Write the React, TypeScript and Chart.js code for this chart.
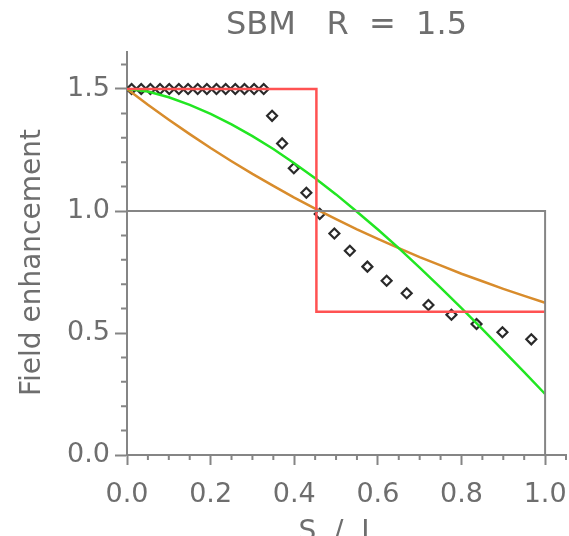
import React, { useEffect, useRef } from 'react';
import { Chart, registerables } from 'chart.js';

Chart.register(...registerables);

const FONT = 'DejaVu Sans';
const AXIS_COLOR = '#858585';
const TEXT_COLOR = '#6e6e6e';

const xMajorTicks = [0, 0.2, 0.4, 0.6, 0.8, 1.0];
const xMinorTicks = [0.05, 0.1, 0.15, 0.25, 0.3, 0.35, 0.45, 0.5, 0.55, 0.65, 0.7, 0.75, 0.85, 0.9, 0.95, 1.05];
const yMajorTicks = [0, 0.5, 1.0, 1.5];
const yMinorTicks = [0.1, 0.2, 0.3, 0.4, 0.6, 0.7, 0.8, 0.9, 1.1, 1.2, 1.3, 1.4, 1.6];

const curveS = [0, 0.05, 0.1, 0.15, 0.2, 0.25, 0.3, 0.35, 0.4, 0.45, 0.5, 0.55, 0.6, 0.65, 0.7, 0.75, 0.8, 0.85, 0.9, 0.95, 1.0];
const greenValues = [1.5, 1.49, 1.466, 1.435, 1.398, 1.355, 1.307, 1.254, 1.196, 1.134, 1.068, 0.997, 0.924, 0.848, 0.768, 0.686, 0.602, 0.516, 0.428, 0.34, 0.25];
const orangeValues = [1.5, 1.435, 1.374, 1.315, 1.258, 1.204, 1.152, 1.103, 1.055, 1.01, 0.967, 0.925, 0.886, 0.848, 0.811, 0.777, 0.743, 0.712, 0.681, 0.652, 0.624];

const stepS = [0, 0.453, 0.453, 1.0];
const stepValues = [1.5, 1.5, 0.587, 0.587];

const boxS = [0, 1, 1];
const boxValues = [1, 1, 0];

const diamondS = [0.011, 0.034, 0.056, 0.079, 0.101, 0.124, 0.146, 0.169, 0.191, 0.214, 0.236, 0.259, 0.281, 0.304, 0.327,
  0.347, 0.371, 0.399, 0.429, 0.461, 0.496, 0.533, 0.575, 0.621, 0.669, 0.721, 0.776, 0.836, 0.898, 0.967];
const diamondValues = [1.5, 1.5, 1.5, 1.5, 1.5, 1.5, 1.5, 1.5, 1.5, 1.5, 1.5, 1.5, 1.5, 1.5, 1.5,
  1.39, 1.277, 1.175, 1.075, 0.988, 0.908, 0.837, 0.772, 0.714, 0.663, 0.615, 0.575, 0.537, 0.503, 0.474];

const zip = (xs: number[], ys: number[]) => xs.map((x, i) => ({ x, y: ys[i] }));

const minorTicksPlugin = {
  id: 'minorTicks',
  afterDraw(chart: any) {
    const { ctx, chartArea, scales } = chart;
    ctx.save();
    ctx.strokeStyle = AXIS_COLOR;
    ctx.lineWidth = 2;
    ctx.beginPath();
    xMinorTicks.forEach((v) => {
      const px = scales.x.getPixelForValue(v);
      ctx.moveTo(px, chartArea.bottom);
      ctx.lineTo(px, chartArea.bottom + 5);
    });
    yMinorTicks.forEach((v) => {
      const py = scales.y.getPixelForValue(v);
      ctx.moveTo(chartArea.left - 6, py);
      ctx.lineTo(chartArea.left, py);
    });
    ctx.stroke();
    ctx.restore();
  },
};

export default function App() {
  const ref = useRef<HTMLCanvasElement | null>(null);

  useEffect(() => {
    if (!ref.current) return;
    const lineDs = (label: string, data: any[], color: string, width: number) => ({
      label,
      data,
      showLine: true,
      borderColor: color,
      backgroundColor: color,
      borderWidth: width,
      pointRadius: 0,
      tension: 0,
      fill: false,
    });
    const chart = new Chart(ref.current, {
      type: 'scatter',
      data: {
        datasets: [
          lineDs('box', zip(boxS, boxValues), AXIS_COLOR, 2),
          lineDs('step', zip(stepS, stepValues), '#ff5252', 2.5),
          lineDs('green', zip(curveS, greenValues), '#22e622', 2.5),
          lineDs('orange', zip(curveS, orangeValues), '#d88c2c', 2.5),
          {
            label: 'SBM',
            data: zip(diamondS, diamondValues),
            showLine: false,
            pointStyle: 'rectRot',
            pointRadius: 5,
            pointBorderWidth: 2.2,
            borderColor: '#2a2a2a',
            backgroundColor: '#ffffff',
          } as any,
        ],
      },
      options: {
        animation: false,
        responsive: true,
        maintainAspectRatio: false,
        layout: { autoPadding: false, padding: { left: 0, right: 3, top: 0, bottom: 0 } },
        plugins: {
          legend: { display: false },
          tooltip: { enabled: false },
          title: {
            display: true,
            text: 'SBM   R  =  1.5',
            fullSize: false,
            color: TEXT_COLOR,
            font: { family: FONT, size: 32, weight: 'normal' },
            padding: { top: 6, bottom: 8 },
          },
        },
        scales: {
          x: {
            type: 'linear',
            min: 0,
            max: 1.05,
            afterBuildTicks: (scale: any) => {
              scale.ticks = xMajorTicks.map((v) => ({ value: v }));
            },
            afterFit: (scale: any) => {
              scale.height = 81;
              scale.paddingLeft = 0;
              scale.paddingRight = 0;
            },
            ticks: {
              color: TEXT_COLOR,
              font: { family: FONT, size: 27 },
              padding: 14,
              maxRotation: 0,
              autoSkip: false,
              callback: (v: any) => Number(v).toFixed(1),
            },
            grid: { drawOnChartArea: false, tickLength: 10, tickWidth: 2, tickColor: AXIS_COLOR, color: AXIS_COLOR },
            border: { color: AXIS_COLOR, width: 2 },
            title: {
              display: true,
              text: 'S  /  L  ',
              color: TEXT_COLOR,
              font: { family: FONT, size: 28 },
              padding: { top: 0, bottom: -14 },
            },
          },
          y: {
            type: 'linear',
            min: 0,
            max: 1.65,
            afterBuildTicks: (scale: any) => {
              scale.ticks = yMajorTicks.map((v) => ({ value: v }));
            },
            afterFit: (scale: any) => {
              scale.width = 127;
              scale.paddingTop = 0;
              scale.paddingBottom = 0;
            },
            ticks: {
              color: TEXT_COLOR,
              font: { family: FONT, size: 27 },
              padding: 5,
              autoSkip: false,
              callback: (v: any) => Number(v).toFixed(1),
            },
            grid: { drawOnChartArea: false, tickLength: 12, tickWidth: 2, tickColor: AXIS_COLOR, color: AXIS_COLOR },
            border: { color: AXIS_COLOR, width: 2 },
            title: {
              display: true,
              text: 'Field enhancement  ',
              color: TEXT_COLOR,
              font: { family: FONT, size: 28 },
              padding: { top: 16, bottom: 0 },
            },
          },
        },
      },
      plugins: [minorTicksPlugin],
    });
    return () => chart.destroy();
  }, []);

  return (
    <div style={{ position: 'fixed', left: 0, top: 0, width: 569, height: 536, background: '#fff' }}>
      <canvas ref={ref} />
    </div>
  );
}
